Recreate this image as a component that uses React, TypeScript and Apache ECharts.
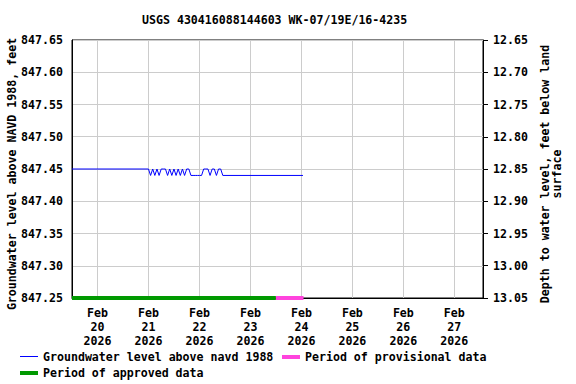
import React, { useEffect, useRef } from "react";
import * as echarts from "echarts";

const TITLE = "USGS 430416088144603 WK-07/19E/16-4235";
const LEFT_AXIS_NAME = "Groundwater level above NAVD 1988, feet";
const RIGHT_AXIS_NAME = "Depth to water level, feet below land\nsurface";
const LAND_SURFACE = 860.3;

const AXIS_START = "2026-02-19T12:00";
const AXIS_END = "2026-02-27T13:30";
const REF_DAY = "2026-02-20T00:00";

const levelTimes = [
  "2026-02-19T12:00",
  "2026-02-21T00:00", "2026-02-21T01:00", "2026-02-21T02:00", "2026-02-21T03:00",
  "2026-02-21T04:00", "2026-02-21T05:00", "2026-02-21T06:00", "2026-02-21T07:00",
  "2026-02-21T08:00", "2026-02-21T09:00", "2026-02-21T10:00", "2026-02-21T11:00",
  "2026-02-21T12:00", "2026-02-21T13:00", "2026-02-21T14:00", "2026-02-21T15:00",
  "2026-02-21T16:00", "2026-02-21T17:00", "2026-02-21T18:00", "2026-02-21T19:00",
  "2026-02-21T20:00", "2026-02-21T21:00", "2026-02-21T22:00", "2026-02-21T23:00",
  "2026-02-22T00:00", "2026-02-22T01:00", "2026-02-22T02:00", "2026-02-22T03:00",
  "2026-02-22T04:00", "2026-02-22T05:00", "2026-02-22T06:00", "2026-02-22T07:00",
  "2026-02-22T08:00", "2026-02-22T09:00", "2026-02-22T10:00", "2026-02-22T11:00",
  "2026-02-24T00:45",
];
const levelValues = [
  847.45,
  847.45, 847.44, 847.45, 847.44,
  847.45, 847.44, 847.45, 847.45,
  847.45, 847.44, 847.45, 847.44,
  847.45, 847.44, 847.45, 847.44,
  847.45, 847.44, 847.45, 847.45,
  847.44, 847.44, 847.44, 847.44,
  847.44, 847.44, 847.45, 847.45,
  847.45, 847.44, 847.45, 847.45,
  847.44, 847.45, 847.45, 847.44,
  847.44,
];

const approvedPeriod = ["2026-02-19T12:00", "2026-02-23T12:00"];
const provisionalPeriod = ["2026-02-23T12:00", "2026-02-24T01:00"];

const Y_MIN = 847.25;
const Y_MAX = 847.65;
const Y_STEP = 0.05;

const MONTHS = ["Jan", "Feb", "Mar", "Apr", "May", "Jun", "Jul", "Aug", "Sep", "Oct", "Nov", "Dec"];

const FONT = "DejaVu Sans Mono";
const FS = 11.6;
const BLUE = "#0000ff";
const GREEN = "#009900";
const PINK = "#ff44dd";

const refMs = new Date(REF_DAY).getTime();
const toDays = (t: string) => (new Date(t).getTime() - refMs) / 86400000;

export default function App() {
  const ref = useRef<HTMLDivElement>(null);
  useEffect(() => {
    if (!ref.current) return;
    const chart = echarts.init(ref.current, null, { renderer: "svg" });
    const textStyle = { fontFamily: FONT, fontSize: FS, fontWeight: "bold" as const, color: "#000" };
    const font = `bold ${FS}px "${FONT}"`;
    const bottomVal = Y_MIN;
    chart.setOption({
      animation: false,
      backgroundColor: "#fff",
      textStyle: { fontFamily: FONT },
      title: {
        text: TITLE,
        left: 142,
        top: 14,
        padding: 0,
        textStyle: { ...textStyle },
      },
      grid: {
        left: 72,
        right: 93,
        top: 40,
        bottom: 86,
        show: true,
        borderColor: "#000",
        borderWidth: 1,
        containLabel: false,
      },
      xAxis: {
        type: "value",
        min: toDays(AXIS_START),
        max: toDays(AXIS_END),
        minInterval: 1,
        maxInterval: 1,
        splitNumber: 8,
        axisLine: { show: true, onZero: false, lineStyle: { color: "#000" } },
        axisTick: { show: false },
        splitLine: { show: true, lineStyle: { color: "#cccccc", width: 1 } },
        axisLabel: {
          ...textStyle,
          showMinLabel: false,
          showMaxLabel: false,
          lineHeight: 14,
          margin: 8,
          formatter: (v: number) => {
            const d = new Date(refMs + v * 86400000);
            return `${MONTHS[d.getMonth()]}\n${d.getDate()}\n${d.getFullYear()}`;
          },
        },
      },
      yAxis: [
        {
          type: "value",
          min: Y_MIN,
          max: Y_MAX,
          interval: Y_STEP,
          axisLine: { show: true, onZero: false, lineStyle: { color: "#000" } },
          axisTick: { show: false },
          splitLine: { show: true, lineStyle: { color: "#cccccc", width: 1 } },
          axisLabel: { ...textStyle, margin: 9, formatter: (v: number) => v.toFixed(2) },
        },
        {
          type: "value",
          inverse: true,
          min: +(LAND_SURFACE - Y_MAX).toFixed(2),
          max: +(LAND_SURFACE - Y_MIN).toFixed(2),
          interval: Y_STEP,
          position: "right",
          axisLine: { show: true, onZero: false, lineStyle: { color: "#000" } },
          axisTick: { show: true, inside: false, length: 5, lineStyle: { color: "#000" } },
          splitLine: { show: false },
          axisLabel: { ...textStyle, margin: 10, formatter: (v: number) => v.toFixed(2) },
        },
      ],
      series: [
        {
          name: "Groundwater level above navd 1988",
          type: "line",
          yAxisIndex: 0,
          showSymbol: false,
          symbol: "none",
          lineStyle: { color: BLUE, width: 1 },
          data: levelTimes.map((t, i) => [toDays(t), levelValues[i]]),
          z: 3,
        },
        {
          name: "Period of approved data",
          type: "line",
          yAxisIndex: 0,
          symbol: "none",
          clip: false,
          lineStyle: { color: GREEN, width: 4 },
          data: approvedPeriod.map((t) => [toDays(t), bottomVal]),
          z: 5,
        },
        {
          name: "Period of provisional data",
          type: "line",
          yAxisIndex: 0,
          symbol: "none",
          clip: false,
          lineStyle: { color: PINK, width: 4 },
          data: provisionalPeriod.map((t) => [toDays(t), bottomVal]),
          z: 5,
        },
      ],
      graphic: [
        {
          type: "text",
          x: 12,
          y: 174,
          rotation: Math.PI / 2,
          style: { text: LEFT_AXIS_NAME, font, fill: "#000", align: "center", verticalAlign: "middle" },
        },
        {
          type: "text",
          x: 551,
          y: 174,
          rotation: Math.PI / 2,
          style: { text: RIGHT_AXIS_NAME, font, fill: "#000", align: "center", verticalAlign: "middle", lineHeight: 12 },
        },
        { type: "line", shape: { x1: 20, y1: 356.5, x2: 38, y2: 356.5 }, style: { stroke: BLUE, lineWidth: 1 } },
        {
          type: "text", x: 43, y: 357,
          style: { text: "Groundwater level above navd 1988", font, fill: "#000", verticalAlign: "middle" },
        },
        { type: "rect", shape: { x: 282, y: 355, width: 18, height: 4 }, style: { fill: PINK } },
        {
          type: "text", x: 305, y: 357,
          style: { text: "Period of provisional data", font, fill: "#000", verticalAlign: "middle" },
        },
        { type: "rect", shape: { x: 20, y: 371, width: 18, height: 4 }, style: { fill: GREEN } },
        {
          type: "text", x: 43, y: 373,
          style: { text: "Period of approved data", font, fill: "#000", verticalAlign: "middle" },
        },
      ],
    });
    return () => chart.dispose();
  }, []);
  return (
    <div
      ref={ref}
      style={{ position: "absolute", left: 0, top: 0, width: 576, height: 384 }}
    />
  );
}
